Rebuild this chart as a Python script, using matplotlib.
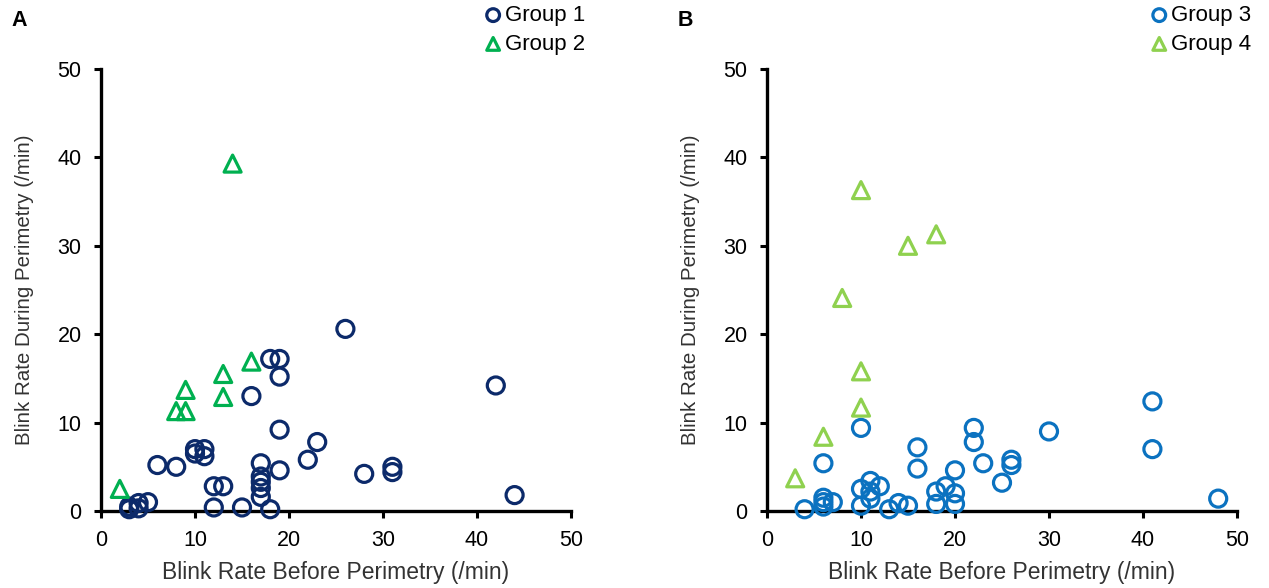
import matplotlib
matplotlib.use("Agg")
import matplotlib.pyplot as plt

plt.rcParams['font.family'] = ['Liberation Sans', 'DejaVu Sans']

g1_x = [3, 3, 4, 4, 5, 6, 8, 10, 11, 10, 11, 12, 13, 12, 15, 16, 18, 19, 19, 19, 19,
        17, 17, 17, 17, 17, 18, 26, 23, 22, 28, 31, 31, 42, 44]
g1_y = [0.2, 0.5, 0.3, 0.9, 1.0, 5.2, 5.0, 7.0, 7.0, 6.5, 6.2, 2.8, 2.8, 0.4, 0.4, 13.0,
        17.2, 17.2, 15.2, 9.2, 4.6, 5.4, 3.9, 3.3, 2.6, 1.6, 0.2, 20.6, 7.8, 5.8, 4.2,
        5.0, 4.4, 14.2, 1.8]
g2_x = [2, 8, 9, 9, 13, 13, 16, 14]
g2_y = [2.5, 11.3, 11.3, 13.7, 15.5, 12.9, 16.9, 39.3]

g3_x = [10, 6, 16, 16, 20, 4, 6, 6, 6, 7, 10, 11, 11, 11, 12, 10, 13, 14, 15, 18, 18,
        19, 20, 20, 22, 22, 23, 25, 26, 26, 30, 41, 41, 48]
g3_y = [9.4, 5.4, 7.2, 4.8, 4.6, 0.2, 1.5, 1.0, 0.5, 1.0, 2.5, 3.4, 2.2, 1.4, 2.8, 0.6,
        0.2, 0.9, 0.6, 2.2, 0.8, 2.8, 2.0, 0.8, 9.4, 7.8, 5.4, 3.2, 5.8, 5.2, 9.0, 12.4,
        7.0, 1.4]
g4_x = [10, 15, 18, 8, 10, 10, 6, 3]
g4_y = [36.3, 30.0, 31.3, 24.1, 15.8, 11.7, 8.4, 3.7]

ticks = [0, 10, 20, 30, 40, 50]
xlabel = "Blink Rate Before Perimetry (/min)"
ylabel = "Blink Rate During Perimetry (/min)"

W, H = 1269, 588
fig = plt.figure(figsize=(W / 100, H / 100), dpi=100)

def make_ax(left_px, right_px, top_px, bottom_px):
    return fig.add_axes([left_px / W, 1 - bottom_px / H,
                         (right_px - left_px) / W, (bottom_px - top_px) / H])

axA = make_ax(101, 571, 69, 511)
axB = make_ax(767, 1237, 69, 511)

panels = [
    (axA, "A", (g1_x, g1_y, "#0c2a6a", "Group 1"), (g2_x, g2_y, "#00b050", "Group 2")),
    (axB, "B", (g3_x, g3_y, "#0b72c0", "Group 3"), (g4_x, g4_y, "#8fd14f", "Group 4")),
]

for ax, letter, (cx, cy, cc, cl), (tx, ty, tc, tl) in panels:
    ax.scatter(cx, cy, s=150, facecolors='none', edgecolors=cc, linewidths=2.3,
               marker='o', label=cl, clip_on=False, zorder=3)
    ax.scatter(tx, ty, s=150, facecolors='none', edgecolors=tc, linewidths=2.3,
               marker='^', label=tl, clip_on=False, zorder=3)
    ax.set_xlim(0, 50)
    ax.set_ylim(0, 50)
    ax.set_xticks(ticks)
    ax.set_yticks(ticks)
    ax.tick_params(labelsize=15.5, width=2.2, length=5, direction='out')
    ax.tick_params(axis='y', pad=9)
    ax.tick_params(axis='x', pad=9)
    for s in ['top', 'right']:
        ax.spines[s].set_visible(False)
    for s in ['left', 'bottom']:
        ax.spines[s].set_linewidth(2.4)
    ax.set_xlabel(xlabel, fontsize=16.5, color='#333333', labelpad=7)
    ax.set_ylabel(ylabel, fontsize=14.8, color='#333333', labelpad=17)
    ax.text(-0.19, 1.11, letter, transform=ax.transAxes, fontsize=15.5,
            fontweight='bold', va='center', ha='left')
    leg = ax.legend(loc='upper right', bbox_to_anchor=(1.05, 1.165), frameon=False,
                    fontsize=16, handletextpad=0.0, labelspacing=0.35,
                    markerscale=0.75, handlelength=1.1, borderaxespad=0)

fig.savefig("out.png", dpi=100)
